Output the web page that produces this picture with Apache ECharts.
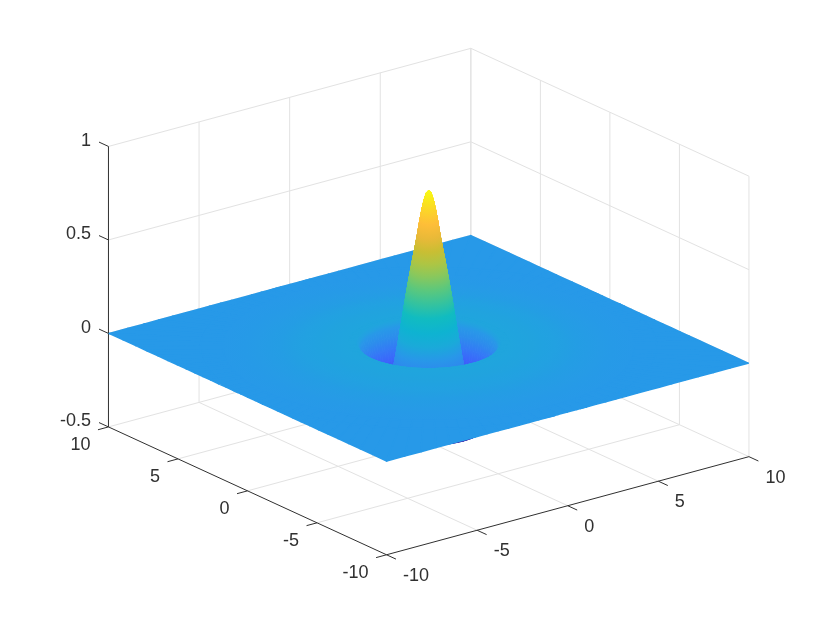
<!DOCTYPE html>
<html>
<head>
<meta charset="utf-8">
<style>html,body{margin:0;padding:0;background:#fff}#chart{width:830px;height:623px}</style>
<script src="https://cdn.jsdelivr.net/npm/echarts@6/dist/echarts.min.js"></script>
</head>
<body>
<div id="chart"></div>
<script>
// Values
const xTicks = [-10, -5, 0, 5, 10];
const yTicks = [-10, -5, 0, 5, 10];
const zTicks = [-0.5, 0, 0.5, 1];
const xTickLabels = ['-10', '-5', '0', '5', '10'];
const yTickLabels = ['-10', '-5', '0', '5', '10'];
const zTickLabels = ['-0.5', '0', '0.5', '1'];

// Surface height against distance from the centre
const profileR = [0, .1, .2, .3, .4, .5, .6, .7, .8, .9, 1, 1.1, 1.2, 1.3, 1.4, 1.5, 1.6, 1.7, 1.8, 1.9, 2, 2.1, 2.2, 2.3, 2.4, 2.5, 2.6, 2.7, 2.8, 2.85, 2.9, 2.95, 3, 3.05, 3.1, 3.2, 3.5, 4, 4.5, 5, 5.5, 6, 6.5, 7, 7.5, 8, 9, 10, 15];
const profileZ = [.845, .832, .795, .742, .678, .605, .54, .478, .414, .348, .278, .205, .13, .06, -.01, -.075, -.14, -.2, -.26, -.31, -.35, -.375, -.395, -.405, -.41, -.41, -.4, -.36, -.28, -.23, -.17, -.11, -.05, -.005, .02, .028, .028, .026, .024, .021, .018, .014, .01, .007, .004, .002, .001, 0, 0];

// Colour seen at each height
const colorZ = [-.41, -.28, -.16, -.07, 0, .03, .18, .33, .45, .55, .65, .72, .81, .845];
const colorHex = ['#3E26A8', '#4446E0', '#3B66FF', '#2E88EE', '#2799E8', '#1FA6DC', '#05B9CC', '#50C884', '#A0C84C', '#CDBD30', '#FFB63E', '#FDCB30', '#F8EC18', '#F8FA14'];

// View set-up
const AZ = 37.5 * Math.PI / 180, CA = Math.cos(AZ), SA = Math.sin(AZ);
const FLAT = 0.3528, Z_SCALE = 8.187, SECTORS = 120, LIM = 10, EDGE = 9.97;

function project(x, y, z) {
  return [x * CA - y * SA, (x * SA + y * CA) * FLAT + z * Z_SCALE];
}
function colorAt(z) {
  if (z <= colorZ[0]) return colorHex[0];
  for (let k = 1; k < colorZ.length; k++) {
    if (z <= colorZ[k]) {
      return echarts.color.lerp((z - colorZ[k - 1]) / (colorZ[k] - colorZ[k - 1]), [colorHex[k - 1], colorHex[k]]);
    }
  }
  return colorHex[colorHex.length - 1];
}
function clipSquare(poly) {
  const edges = [[0, 1], [0, -1], [1, 1], [1, -1]];
  let out = poly;
  edges.forEach(function (e) {
    const a = e[0], s = e[1], res = [];
    for (let i = 0; i < out.length; i++) {
      const p = out[i], q = out[(i + 1) % out.length];
      const pd = EDGE - s * p[a], qd = EDGE - s * q[a];
      if (pd >= 0) res.push(p);
      if ((pd >= 0) !== (qd >= 0)) {
        const t = pd / (pd - qd);
        res.push([p[0] + t * (q[0] - p[0]), p[1] + t * (q[1] - p[1]), p[2] + t * (q[2] - p[2])]);
      }
    }
    out = res;
  });
  return out;
}

// Surface cells, back to front
const cells = [];
for (let i = 0; i < profileR.length - 1; i++) {
  for (let j = 0; j < SECTORS; j++) {
    const a = (j + 0.5) * 2 * Math.PI / SECTORS, r = (profileR[i] + profileR[i + 1]) / 2;
    const cx = r * Math.cos(a), cy = r * Math.sin(a);
    if (Math.abs(cx) > LIM + 3 || Math.abs(cy) > LIM + 3) continue;
    const c = project(cx, cy, (profileZ[i] + profileZ[i + 1]) / 2);
    cells.push({ value: [c[0], c[1], i, j], depth: cx * SA + cy * CA });
  }
}
cells.sort(function (a, b) { return b.depth - a.depth; });

function renderCell(params, api) {
  const i = api.value(2), j = api.value(3);
  const a0 = j * 2 * Math.PI / SECTORS, a1 = (j + 1) * 2 * Math.PI / SECTORS, am = (a0 + a1) / 2;
  const r0 = profileR[i], r1 = profileR[i + 1], z0 = profileZ[i], z1 = profileZ[i + 1];
  let world = [
    [r0 * Math.cos(a0), r0 * Math.sin(a0), z0],
    [r1 * Math.cos(a0), r1 * Math.sin(a0), z1],
    [r1 * Math.cos(a1), r1 * Math.sin(a1), z1],
    [r0 * Math.cos(a1), r0 * Math.sin(a1), z0]
  ];
  if (r1 > 9.9) world = clipSquare(world);
  if (world.length < 3) return null;
  const pts = world.map(function (p) { return api.coord(project(p[0], p[1], p[2])); });
  const p0 = api.coord(project(r0 * Math.cos(am), r0 * Math.sin(am), z0));
  const p1 = api.coord(project(r1 * Math.cos(am), r1 * Math.sin(am), z1));
  const len = Math.hypot(p1[0] - p0[0], p1[1] - p0[1]);
  const c0 = colorAt(z0), c1 = colorAt(z1);
  const paint = (len < 0.05 || c0 === c1) ? colorAt((z0 + z1) / 2)
    : new echarts.graphic.LinearGradient(p0[0], p0[1], p1[0], p1[1], [{ offset: 0, color: c0 }, { offset: 1, color: c1 }], true);
  return { type: 'polygon', shape: { points: pts }, style: { fill: paint, stroke: paint, lineWidth: r0 >= 3.05 ? 1.6 : 1, lineJoin: 'round' }, silent: true };
}

// Box, grid and axis lines, as pairs of world points
const zLow = zTicks[0], zHigh = zTicks[zTicks.length - 1];
const gridSegments = [];
zTicks.forEach(function (z) {
  gridSegments.push([-LIM, LIM, z, LIM, LIM, z]);
  gridSegments.push([LIM, LIM, z, LIM, -LIM, z]);
});
xTicks.slice(1).forEach(function (x) { gridSegments.push([x, LIM, zLow, x, LIM, zHigh]); });
yTicks.forEach(function (y) { gridSegments.push([LIM, y, zLow, LIM, y, zHigh]); });
xTicks.slice(1, 4).forEach(function (x) { gridSegments.push([x, -LIM, zLow, x, LIM, zLow]); });
yTicks.slice(1, 4).forEach(function (y) { gridSegments.push([-LIM, y, zLow, LIM, y, zLow]); });

const axisSegments = [
  [-LIM, LIM, zLow, -LIM, LIM, zHigh],
  [-LIM, LIM, zLow, -LIM, -LIM, zLow],
  [-LIM, -LIM, zLow, LIM, -LIM, zLow]
];
const TICK = 0.68;
xTicks.forEach(function (x) { axisSegments.push([x, -LIM, zLow, x, -LIM - TICK, zLow]); });
yTicks.forEach(function (y) { axisSegments.push([-LIM, y, zLow, -LIM - TICK * 0.85, y, zLow]); });
zTicks.forEach(function (z) { axisSegments.push([-LIM, LIM, z, -LIM, LIM + TICK, z]); });

function renderSegment(color, width) {
  return function (params, api) {
    const a = api.coord(project(api.value(0), api.value(1), api.value(2)));
    const b = api.coord(project(api.value(3), api.value(4), api.value(5)));
    return { type: 'line', shape: { x1: a[0], y1: a[1], x2: b[0], y2: b[1] }, style: { stroke: color, lineWidth: width }, silent: true };
  };
}

// Tick labels: world anchor, text, pixel offset
const labelItems = [];
xTicks.forEach(function (x, k) { labelItems.push({ value: [x, -LIM, zLow, 16.5, 21, 0], text: xTickLabels[k] }); });
yTicks.forEach(function (y, k) { labelItems.push({ value: [-LIM, y, zLow, -18, 18, 1], text: yTickLabels[k] }); });
zTicks.forEach(function (z, k) { labelItems.push({ value: [-LIM, LIM, z, -17.5, -5.5, 1], text: zTickLabels[k] }); });

function renderLabel(params, api) {
  const p = api.coord(project(api.value(0), api.value(1), api.value(2)));
  return {
    type: 'text', x: p[0] + api.value(3), y: p[1] + api.value(4), silent: true,
    style: {
      text: labelItems[params.dataIndex].text, fill: '#303030', fontSize: 18, fontFamily: '"Liberation Sans", Arial, sans-serif',
      align: api.value(5) ? 'right' : 'left', verticalAlign: 'middle',
      textAlign: api.value(5) ? 'right' : 'left', textVerticalAlign: 'middle'
    }
  };
}

const PX = 22.84, CX = 428.7, CY = 348.3;
const chart = echarts.init(document.getElementById('chart'), null, { renderer: 'canvas' });
chart.setOption({
  backgroundColor: '#ffffff',
  animation: false,
  grid: { left: 0, right: 0, top: 0, bottom: 0 },
  xAxis: { type: 'value', show: false, min: -CX / PX, max: (830 - CX) / PX },
  yAxis: { type: 'value', show: false, min: -(623 - CY) / PX, max: CY / PX },
  series: [
    { type: 'custom', name: 'grid', coordinateSystem: 'cartesian2d', clip: false, silent: true, z: 1, progressive: 0,
      renderItem: renderSegment('#E2E2E2', 1), data: gridSegments, encode: { x: 0, y: 1 } },
    { type: 'custom', name: 'axes', coordinateSystem: 'cartesian2d', clip: false, silent: true, z: 2, progressive: 0,
      renderItem: renderSegment('#303030', 1), data: axisSegments, encode: { x: 0, y: 1 } },
    { type: 'custom', name: 'surface', coordinateSystem: 'cartesian2d', clip: false, silent: true, z: 3, progressive: 0,
      renderItem: renderCell, data: cells, encode: { x: 0, y: 1 } },
    { type: 'custom', name: 'labels', coordinateSystem: 'cartesian2d', clip: false, silent: true, z: 4, progressive: 0,
      renderItem: renderLabel, data: labelItems, encode: { x: 0, y: 1 } }
  ]
});
</script>
</body>
</html>
